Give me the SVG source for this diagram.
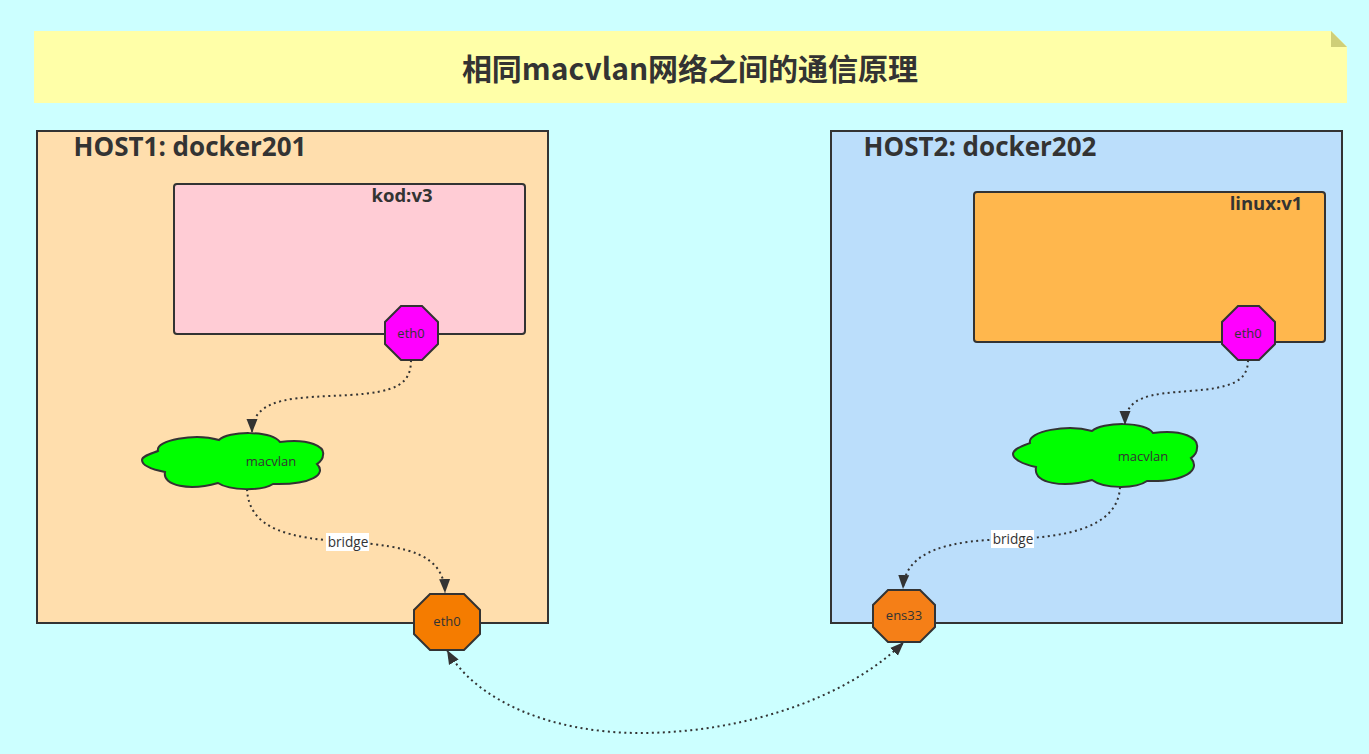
<svg xmlns="http://www.w3.org/2000/svg" width="1369" height="754" viewBox="0 0 1369 754">
<style>
text{font-family:"Open Sans","Noto Sans CJK SC",sans-serif;fill:#333;text-anchor:middle}
.box{stroke:#333;stroke-width:2}
.lbl{font-size:13px}
.br{font-size:13.600px}
.edge{fill:none;stroke:#333;stroke-width:2;stroke-dasharray:2 3.500}
.h{font-size:26px;font-weight:700}
.c{font-size:18.500px;font-weight:700}
.port{fill:#f0f;stroke:#333;stroke-width:2}
.cloud{fill:#0f0;stroke:#333;stroke-width:2}
</style>
<defs>
<marker id="arrow" markerUnits="userSpaceOnUse" markerWidth="15" markerHeight="13" refX="14" refY="6.500" orient="auto-start-reverse"><path d="M0 1L14 6.500L0 12Z" fill="#333"/></marker>
</defs>
<rect width="1369" height="754" fill="#ccffff"/>
<g id="title">
<path d="M34 31H1331L1347 47V103H34Z" fill="#ffffa8"/>
<path d="M1331 31L1347 47H1331Z" fill="#cfcf78"/>
<text x="690" y="80" font-size="30" font-weight="700" style="font-family:'Noto Sans CJK SC',sans-serif">相同macvlan网络之间的通信原理</text>
</g>
<g id="host1">
<rect class="box" x="37" y="131" width="511" height="492" fill="#ffdead"/>
<text class="h" x="190" y="156">HOST1: docker201</text>
</g>
<g id="host2">
<rect class="box" x="831" y="131" width="511" height="492" fill="#bbdefb"/>
<text class="h" x="980" y="156">HOST2: docker202</text>
</g>
<g id="container1">
<rect class="box" x="174" y="184" width="351" height="150" rx="3" fill="#ffccd5"/>
<text class="c" x="402" y="202">kod:v3</text>
</g>
<g id="container2">
<rect class="box" x="974" y="192" width="351" height="150" rx="3" fill="#ffb74d"/>
<text class="c" x="1266" y="210">linux:v1</text>
</g>
<g id="connectors">
<path class="edge" d="M411 360C411 385 395 392 350 395C300 398 252 395 252 433" marker-end="url(#arrow)"/>
<path class="edge" d="M247 489C249 530 290 538 348 542C410 546 444 555 445 593" marker-end="url(#arrow)"/>
<path class="edge" d="M1248 360C1248 382 1230 388 1190 391C1150 394 1125 396 1125 425" marker-end="url(#arrow)"/>
<path class="edge" d="M1120 487C1118 530 1060 537 1013 539C950 540 905 550 903 589" marker-end="url(#arrow)"/>
<path class="edge" d="M447 650C475 700 550 733 640 733C740 733 845 700 904 642" marker-start="url(#arrow)" marker-end="url(#arrow)"/>
<rect x="326" y="533" width="43" height="18" fill="#fff"/>
<text class="br" x="348" y="547">bridge</text>
<rect x="991" y="530" width="43" height="18" fill="#fff"/>
<text class="br" x="1013" y="544">bridge</text>
</g>
<g id="eth0-kod">
<path class="port" d="M401 306H422L438 322V344L422 360H401L385 344V322Z"/>
<text class="lbl" x="411" y="338">eth0</text>
</g>
<g id="eth0-linux">
<path class="port" d="M1238 306H1259L1275 322V344L1259 360H1238L1222 344V322Z"/>
<text class="lbl" x="1248" y="338">eth0</text>
</g>
<g id="macvlan1">
<path class="cloud" d="M142 460C142 456 150 454 158 451C155 440 195 433 219 440C228 431 270 430 280 442C310 438 325 447 323 455C323 459 320 462 317 464C327 474 312 485 273 484C262 491 230 491 218 483C190 491 162 486 165 472C150 469 142 465 142 460Z"/>
<text class="lbl" x="271" y="466">macvlan</text>
</g>
<g id="macvlan2">
<path class="cloud" d="M1013 454C1013 449 1022 446 1030 443C1027 431 1068 424 1092 431C1102 422 1145 421 1153 433C1183 429 1199 438 1197 448C1197 452 1194 456 1191 458C1201 470 1186 482 1147 481C1136 489 1104 489 1092 480C1064 488 1033 484 1036 467C1022 464 1013 459 1013 454Z"/>
<text class="lbl" x="1143" y="461">macvlan</text>
</g>
<g id="eth0-host1">
<path class="box" d="M430 594H464L480 610V634L464 650H430L414 634V610Z" fill="#f57c00"/>
<text class="lbl" x="447" y="626">eth0</text>
</g>
<g id="ens33-host2">
<path class="box" d="M888 590H920L935 605V627L920 642H888L873 627V605Z" fill="#f57f17"/>
<text class="lbl" x="904" y="620">ens33</text>
</g>
</svg>
